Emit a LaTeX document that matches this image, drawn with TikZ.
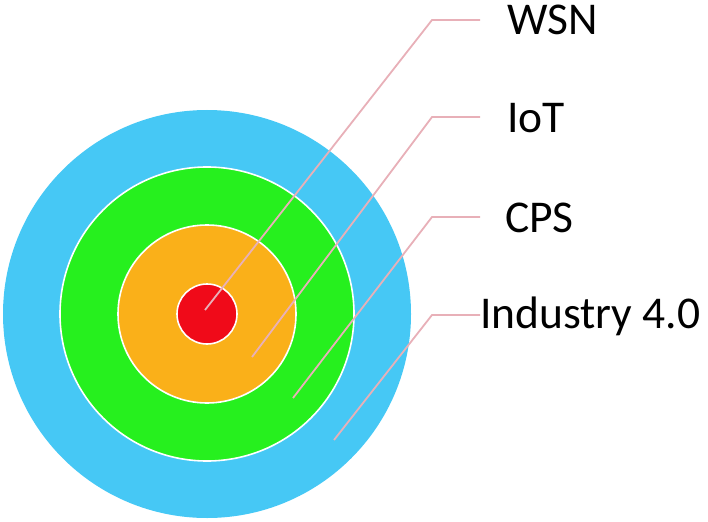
\documentclass[tikz,border=0pt]{standalone}
\usepackage{fontspec}
\setmainfont{Carlito}
\definecolor{cblue}{RGB}{70,200,245}
\definecolor{cgreen}{RGB}{38,240,30}
\definecolor{corange}{RGB}{250,176,25}
\definecolor{cred}{RGB}{240,10,25}
\definecolor{clead}{RGB}{232,176,184}
\begin{document}
\begin{tikzpicture}[x=1pt,y=-1pt,
  ring/.style={circle,inner sep=0pt,outer sep=0pt},
  sep/.style={draw=white,line width=1.6pt},
  lead/.style={draw=clead,line width=1.8pt},
  lab/.style={anchor=base west,inner sep=0pt,font=\fontsize{45.5}{50}\selectfont}]
\useasboundingbox (0,0) rectangle (708,521);
\node[ring,fill=cblue,minimum size=408pt] (outer) at (207,314) {};
\node[ring,fill=cgreen,sep,minimum size=294pt] (green) at (207,314) {};
\node[ring,fill=corange,sep,minimum size=178pt] (orange) at (207,314) {};
\node[ring,fill=cred,sep,minimum size=60pt] (red) at (207,314) {};
% labels
\node[lab] (wsn) at (507,35) {WSN};
\node[lab] (iot) at (507,133) {IoT};
\node[lab] (cps) at (505,232) {CPS};
\node[lab] (ind) at (480,328) {Industry 4.0};
% connector points
\coordinate (s1) at (205,310);
\coordinate (s2) at (252,357);
\coordinate (s3) at (293,398);
\coordinate (s4) at (334,440);
\coordinate (k1) at (432,20);
\coordinate (k2) at (432,117);
\coordinate (k3) at (432,217);
\coordinate (k4) at (432,315);
\coordinate (e1) at (480,20);
\coordinate (e2) at (480,117);
\coordinate (e3) at (480,217);
\coordinate (e4) at (480,315);
\draw[lead] (s1) -- (k1) -- (e1);
\draw[lead] (s2) -- (k2) -- (e2);
\draw[lead] (s3) -- (k3) -- (e3);
\draw[lead] (s4) -- (k4) -- (e4);
\end{tikzpicture}
\end{document}
